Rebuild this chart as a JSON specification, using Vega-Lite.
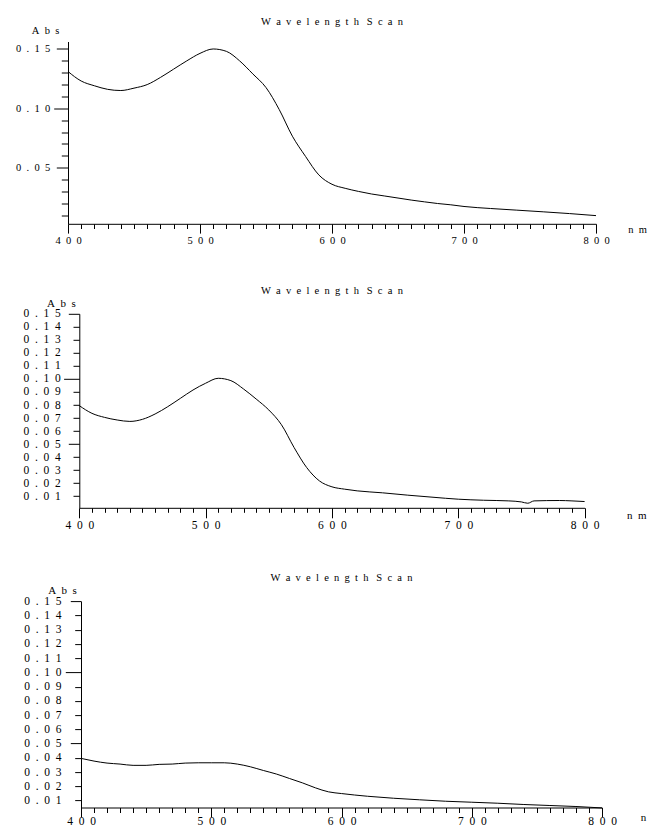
{
  "$schema": "https://vega.github.io/schema/vega-lite/v6.json",
  "padding": {"left": 15, "top": 16.5, "right": 0, "bottom": 0},
  "background": "white",
  "bounds": "flush",
  "spacing": 89.3,
  "datasets": {
    "p1": [
      {"nm": 400, "abs": 0.131}, {"nm": 410, "abs": 0.123}, {"nm": 420, "abs": 0.119}, {"nm": 430, "abs": 0.116},
      {"nm": 440, "abs": 0.115}, {"nm": 450, "abs": 0.117}, {"nm": 460, "abs": 0.120}, {"nm": 470, "abs": 0.126},
      {"nm": 480, "abs": 0.133}, {"nm": 490, "abs": 0.140}, {"nm": 500, "abs": 0.1463}, {"nm": 510, "abs": 0.150},
      {"nm": 520, "abs": 0.148}, {"nm": 530, "abs": 0.140}, {"nm": 540, "abs": 0.129}, {"nm": 550, "abs": 0.1175},
      {"nm": 560, "abs": 0.099}, {"nm": 570, "abs": 0.0765}, {"nm": 580, "abs": 0.0594}, {"nm": 590, "abs": 0.0439},
      {"nm": 600, "abs": 0.036}, {"nm": 610, "abs": 0.0326}, {"nm": 620, "abs": 0.030}, {"nm": 630, "abs": 0.0278},
      {"nm": 640, "abs": 0.0261}, {"nm": 650, "abs": 0.0244}, {"nm": 660, "abs": 0.0227}, {"nm": 670, "abs": 0.0212},
      {"nm": 680, "abs": 0.0198}, {"nm": 690, "abs": 0.0187}, {"nm": 700, "abs": 0.0173}, {"nm": 720, "abs": 0.0156},
      {"nm": 740, "abs": 0.0142}, {"nm": 760, "abs": 0.0128}, {"nm": 780, "abs": 0.0113}, {"nm": 800, "abs": 0.0096}
    ],
    "p2": [
      {"nm": 400, "abs": 0.0795}, {"nm": 410, "abs": 0.0736}, {"nm": 420, "abs": 0.0705}, {"nm": 430, "abs": 0.0685},
      {"nm": 440, "abs": 0.0674}, {"nm": 450, "abs": 0.069}, {"nm": 460, "abs": 0.0731}, {"nm": 470, "abs": 0.0787},
      {"nm": 480, "abs": 0.0851}, {"nm": 490, "abs": 0.0915}, {"nm": 500, "abs": 0.0967}, {"nm": 510, "abs": 0.1005},
      {"nm": 520, "abs": 0.0987}, {"nm": 530, "abs": 0.0923}, {"nm": 540, "abs": 0.0846}, {"nm": 550, "abs": 0.0762},
      {"nm": 560, "abs": 0.0649}, {"nm": 570, "abs": 0.0474}, {"nm": 580, "abs": 0.032}, {"nm": 590, "abs": 0.0218},
      {"nm": 600, "abs": 0.0172}, {"nm": 610, "abs": 0.0154}, {"nm": 620, "abs": 0.0141}, {"nm": 640, "abs": 0.0126},
      {"nm": 660, "abs": 0.0108}, {"nm": 680, "abs": 0.0092}, {"nm": 700, "abs": 0.0077}, {"nm": 720, "abs": 0.0069},
      {"nm": 740, "abs": 0.0064}, {"nm": 750, "abs": 0.0056}, {"nm": 755, "abs": 0.0046}, {"nm": 760, "abs": 0.0064},
      {"nm": 780, "abs": 0.0067}, {"nm": 790, "abs": 0.0064}, {"nm": 800, "abs": 0.0059}
    ],
    "p3": [
      {"nm": 400, "abs": 0.0396}, {"nm": 410, "abs": 0.0377}, {"nm": 420, "abs": 0.0363}, {"nm": 430, "abs": 0.0356},
      {"nm": 440, "abs": 0.0347}, {"nm": 450, "abs": 0.0347}, {"nm": 460, "abs": 0.0354}, {"nm": 470, "abs": 0.0356},
      {"nm": 480, "abs": 0.0363}, {"nm": 490, "abs": 0.0365}, {"nm": 500, "abs": 0.0365}, {"nm": 510, "abs": 0.0365},
      {"nm": 520, "abs": 0.0356}, {"nm": 530, "abs": 0.0337}, {"nm": 540, "abs": 0.0311}, {"nm": 550, "abs": 0.0286},
      {"nm": 560, "abs": 0.0255}, {"nm": 570, "abs": 0.0224}, {"nm": 580, "abs": 0.0189}, {"nm": 590, "abs": 0.0161},
      {"nm": 600, "abs": 0.0149}, {"nm": 620, "abs": 0.0130}, {"nm": 640, "abs": 0.0116}, {"nm": 660, "abs": 0.0105},
      {"nm": 680, "abs": 0.0095}, {"nm": 700, "abs": 0.0088}, {"nm": 720, "abs": 0.0081}, {"nm": 740, "abs": 0.0072},
      {"nm": 760, "abs": 0.0065}, {"nm": 780, "abs": 0.0058}, {"nm": 800, "abs": 0.0048}
    ]
  },
  "vconcat": [
    {
      "width": 528,
      "height": 182.3,
      "data": {"name": "p1"},
      "title": {"text": "W\u2002a\u2002v\u2002e\u2002l\u2002e\u2002n\u2002g\u2002t\u2002h\u2002 S\u2002c\u2002a\u2002n", "frame": "group", "anchor": "middle", "offset": -1.8, "fontSize": 10.5},
      "mark": {"type": "line", "color": "black", "strokeWidth": 1, "interpolate": "monotone"},
      "encoding": {
        "x": {
          "field": "nm", "type": "quantitative",
          "scale": {"domain": [400, 800]},
          "axis": {
            "values": [400,410,420,430,440,450,460,470,480,490,500,510,520,530,540,550,560,570,580,590,600,610,620,630,640,650,660,670,680,690,700,710,720,730,740,750,760,770,780,790,800],
            "title": "n\u2002m", "titleX": 569, "titleY": 6, "titleAlign": "center", "titleBaseline": "middle", "titleAngle": 0, "titleFontSize": 10.5,
            "tickSize": {"expr": "datum.value % 100 === 0 ? 9.3 : 4.7"},
            "labelPadding": 2,
            "labelFontSize": 10.5,
            "labelExpr": "datum.value % 100 === 0 ? replace(format(datum.value, 'd'), /(.)(?=.)/g, '$1\u2002') : ''"
          }
        },
        "y": {
          "field": "abs", "type": "quantitative",
          "scale": {"domain": [0.0027, 0.1563]},
          "axis": {
            "values": [0.01,0.02,0.03,0.04,0.05,0.06,0.07,0.08,0.09,0.1,0.11,0.12,0.13,0.14,0.15],
            "title": "A\u2002b\u2002s", "titleX": -23, "titleY": -11, "titleAlign": "center", "titleBaseline": "middle", "titleAngle": 0, "titleFontSize": 10.5,
            "tickSize": {"expr": "abs(datum.value-0.1)<1e-6 ? 14.3 : ((abs(datum.value-0.05)<1e-6 || abs(datum.value-0.15)<1e-6) ? 11.7 : 6.7)"},
            "labelPadding": {"expr": "abs(datum.value-0.1)<1e-6 ? 4 : ((abs(datum.value-0.05)<1e-6 || abs(datum.value-0.15)<1e-6) ? 6.6 : 11.6)"},
            "labelFontSize": 10.5,
            "labelExpr": "abs(datum.value*20-round(datum.value*20))<1e-6 ? replace(format(datum.value, '.2f'), /(.)(?=.)/g, '$1\u2002') : ''"
          }
        }
      }
    },
    {
      "width": 516.6,
      "height": 194,
      "data": {"name": "p2"},
      "title": {"text": "W\u2002a\u2002v\u2002e\u2002l\u2002e\u2002n\u2002g\u2002t\u2002h\u2002 S\u2002c\u2002a\u2002n", "frame": "group", "anchor": "middle", "offset": 1, "dx": 5.6, "fontSize": 10.5},
      "mark": {"type": "line", "color": "black", "strokeWidth": 1, "interpolate": "monotone"},
      "encoding": {
        "x": {
          "field": "nm", "type": "quantitative",
          "scale": {"domain": [400, 800], "range": [11.3, 516.6]},
          "axis": {
            "values": [400,410,420,430,440,450,460,470,480,490,500,510,520,530,540,550,560,570,580,590,600,610,620,630,640,650,660,670,680,690,700,710,720,730,740,750,760,770,780,790,800],
            "title": "n\u2002m", "titleX": 568.3, "titleY": 7.7, "titleAlign": "center", "titleBaseline": "middle", "titleAngle": 0, "titleFontSize": 11,
            "tickSize": {"expr": "datum.value % 100 === 0 ? 10 : 4.5"},
            "labelPadding": 1.5,
            "labelFontSize": 11.5,
            "labelExpr": "datum.value % 100 === 0 ? replace(format(datum.value, 'd'), /(.)(?=.)/g, '$1\u2002') : ''"
          }
        },
        "y": {
          "field": "abs", "type": "quantitative",
          "scale": {"domain": [0.0011, 0.15]},
          "axis": {
            "offset": -11.3,
            "values": [0.01,0.02,0.03,0.04,0.05,0.06,0.07,0.08,0.09,0.1,0.11,0.12,0.13,0.14,0.15],
            "title": "A\u2002b\u2002s", "titleX": -18.5, "titleY": -10.6, "titleAlign": "center", "titleBaseline": "middle", "titleAngle": 0, "titleFontSize": 11,
            "tickSize": {"expr": "abs(datum.value-0.1)<1e-6 ? 15.7 : ((abs(datum.value-0.05)<1e-6 || abs(datum.value-0.15)<1e-6) ? 11 : 6.3)"},
            "labelPadding": {"expr": "abs(datum.value-0.1)<1e-6 ? 3.3 : ((abs(datum.value-0.05)<1e-6 || abs(datum.value-0.15)<1e-6) ? 8 : 12.7)"},
            "labelFontSize": 11.5,
            "labelExpr": "replace(format(datum.value, '.2f'), /(.)(?=.)/g, '$1\u2002')"
          }
        }
      }
    },
    {
      "width": 534,
      "height": 210.4,
      "data": {"name": "p3"},
      "title": {"text": "W\u2002a\u2002v\u2002e\u2002l\u2002e\u2002n\u2002g\u2002t\u2002h\u2002 S\u2002c\u2002a\u2002n", "frame": "group", "anchor": "middle", "offset": 1.2, "dx": 6.5, "fontSize": 10.5},
      "mark": {"type": "line", "color": "black", "strokeWidth": 1, "interpolate": "monotone"},
      "encoding": {
        "x": {
          "field": "nm", "type": "quantitative",
          "scale": {"domain": [400, 800], "range": [13, 534]},
          "axis": {
            "values": [400,410,420,430,440,450,460,470,480,490,500,510,520,530,540,550,560,570,580,590,600,610,620,630,640,650,660,670,680,690,700,710,720,730,740,750,760,770,780,790,800],
            "title": "n\u2002m", "titleX": 582, "titleY": 9.7, "titleAlign": "center", "titleBaseline": "middle", "titleAngle": 0, "titleFontSize": 11,
            "tickSize": {"expr": "datum.value % 100 === 0 ? 9.3 : 5"},
            "labelPadding": -1,
            "labelFontSize": 11.5,
            "labelExpr": "datum.value % 100 === 0 ? replace(format(datum.value, 'd'), /(.)(?=.)/g, '$1\u2002') : ''"
          }
        },
        "y": {
          "field": "abs", "type": "quantitative",
          "scale": {"domain": [0.0051, 0.15], "range": [210.4, 4.1]},
          "axis": {
            "offset": -13,
            "values": [0.01,0.02,0.03,0.04,0.05,0.06,0.07,0.08,0.09,0.1,0.11,0.12,0.13,0.14,0.15],
            "title": "A\u2002b\u2002s", "titleX": -19, "titleY": -6.6, "titleAlign": "center", "titleBaseline": "middle", "titleAngle": 0, "titleFontSize": 11,
            "tickSize": {"expr": "abs(datum.value-0.1)<1e-6 ? 15.7 : ((abs(datum.value-0.05)<1e-6 || abs(datum.value-0.15)<1e-6) ? 10.7 : 6.3)"},
            "labelPadding": {"expr": "abs(datum.value-0.1)<1e-6 ? 4.3 : ((abs(datum.value-0.05)<1e-6 || abs(datum.value-0.15)<1e-6) ? 9.3 : 13.7)"},
            "labelFontSize": 11.5,
            "labelExpr": "replace(format(datum.value, '.2f'), /(.)(?=.)/g, '$1\u2002')"
          }
        }
      }
    }
  ],
  "config": {
    "view": {"stroke": null},
    "font": "Liberation Serif",
    "title": {"font": "Liberation Serif", "fontWeight": "normal", "color": "black"},
    "axis": {
      "grid": false,
      "domainColor": "black",
      "domainWidth": 1,
      "tickColor": "black",
      "tickWidth": 1,
      "labelColor": "black",
      "titleColor": "black",
      "labelFont": "Liberation Serif",
      "titleFont": "Liberation Serif",
      "titleFontWeight": "normal",
      "labelOverlap": false,
      "labelFlush": false,
      "labelBound": false
    }
  }
}
